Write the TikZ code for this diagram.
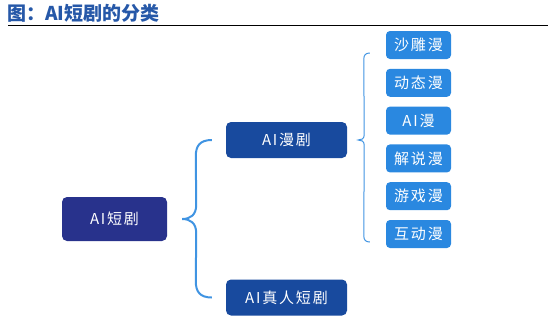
\documentclass[tikz,border=0pt]{standalone}
\usepackage{fontspec}
\setmainfont{Noto Sans CJK SC}
\newfontfamily\boxfont[LetterSpace=12]{Noto Sans CJK SC}
\usetikzlibrary{positioning,calc}
\definecolor{TITLE-BLUE}{RGB}{38,88,168}
\definecolor{ROOT-BLUE}{RGB}{40,50,140}
\definecolor{MID-BLUE}{RGB}{24,74,158}
\definecolor{LEAF-BLUE}{RGB}{42,136,224}
\definecolor{BRACE-BLUE}{RGB}{64,148,226}

\begin{document}
\begin{tikzpicture}[x=1pt,y=-1pt,
  box/.style={rounded corners=5pt, text=white, inner sep=0pt, font=\boxfont\fontsize{15}{15}\selectfont},
  rootbox/.style={box, fill=ROOT-BLUE, minimum width=105pt, minimum height=44pt},
  midbox/.style={box, fill=MID-BLUE, minimum width=121pt, minimum height=36pt},
  leafbox/.style={box, fill=LEAF-BLUE, minimum width=65pt, minimum height=28pt, rounded corners=4pt},
  brace/.style={BRACE-BLUE, line width=2pt},
  thinbrace/.style={BRACE-BLUE, line width=1pt}]
  \useasboundingbox (0,0) rectangle (554,325);

  % Title
  \node[anchor=west, inner sep=0pt, text=TITLE-BLUE, font=\fontsize{19}{19}\selectfont\bfseries] (title) at (7,13.5) {图：AI短剧的分类};
  \draw[line width=1.6pt] (8,25.5) -- (548,25.5);

  % Tree
  \node[rootbox] (root) at (114.5,219) {AI短剧};
  \node[midbox] (manju) at (286.5,140) {AI漫剧};
  \node[midbox] (zhenren) at (286.5,297.5) {AI真人短剧};
  \foreach \t [count=\i] in {沙雕漫,动态漫,AI漫,解说漫,游戏漫,互动漫}
    \node[leafbox] (leaf\i) at (418.5,7.2+37.8*\i) {\t};

  % Left brace
  \coordinate (lt) at ($(manju.west)+(-14,0)$);
  \coordinate (lb) at ($(zhenren.west)+(-14,0)$);
  \coordinate (ltip) at ($(root.east)+(15,0)$);
  \draw[brace] (lt) .. controls +(-12,0) and +(0,-10) .. ($(lt)+(-16,16)$)
    -- ($(ltip)+(14,-14)$) .. controls +(0,10) and +(8,0) .. (ltip)
    .. controls +(8,0) and +(0,-10) .. ($(ltip)+(14,14)$)
    -- ($(lb)+(-16,-16)$) .. controls +(0,10) and +(-12,0) .. (lb);

  % Right brace
  \coordinate (rt) at ($(leaf1.west)+(-16,8)$);
  \coordinate (rb) at ($(leaf6.west)+(-16,8)$);
  \coordinate (rtip) at ($(manju.east)+(11,0)$);
  \draw[thinbrace] (rt) .. controls +(-4,0) and +(0,-4) .. ($(rt)+(-6,6)$)
    -- ($(rtip)+(6,-5)$) .. controls +(0,4) and +(3,0) .. (rtip)
    .. controls +(3,0) and +(0,-4) .. ($(rtip)+(6,5)$)
    -- ($(rb)+(-6,-6)$) .. controls +(0,4) and +(-4,0) .. (rb);
\end{tikzpicture}
\end{document}
